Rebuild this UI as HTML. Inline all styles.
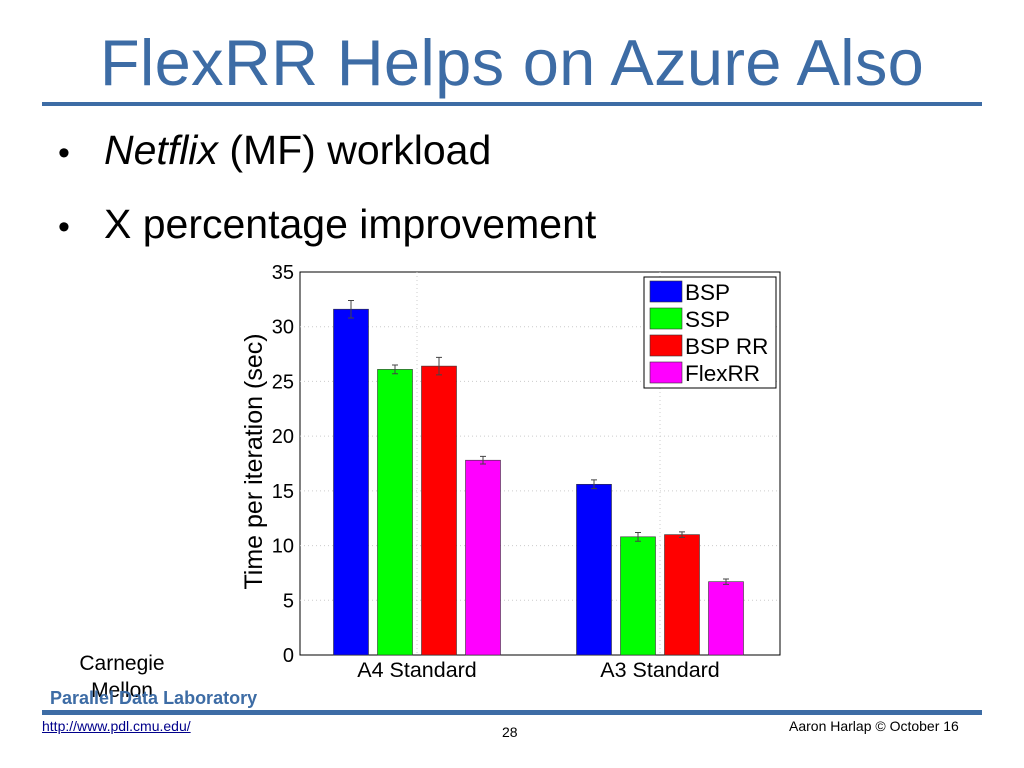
<!DOCTYPE html>
<html><head><meta charset="utf-8"><style>
body{margin:0;width:1024px;height:768px;background:#fff;overflow:hidden;position:relative;font-family:"Liberation Sans",Arial,sans-serif}
.a{position:absolute;white-space:nowrap}
</style></head><body>
<div class="a" style="left:0;width:1024px;text-align:center;top:27px;font-size:65px;color:#3d6ca5;line-height:72px;letter-spacing:0.3px">FlexRR Helps on Azure Also</div>
<div class="a" style="left:42px;width:940px;top:102px;height:4px;background:#3d6ca5"></div>
<div class="a" style="left:58px;top:126px;font-size:41px;line-height:48px"><span style="display:inline-block;width:46px;font-size:34px">•</span><i>Netflix</i> (MF) workload</div>
<div class="a" style="left:58px;top:200px;font-size:41px;line-height:48px"><span style="display:inline-block;width:46px;font-size:34px">•</span>X percentage improvement</div>
<svg class="a" style="left:0;top:0" width="1024" height="768">
<g id="chart"></g>
</svg>
<div class="a" style="left:72px;top:650px;font-size:21px;line-height:27px;text-align:center;width:100px">Carnegie<br>Mellon</div>
<div class="a" style="left:50px;top:688px;font-size:18px;font-weight:bold;color:#3d6ca5">Parallel Data Laboratory</div>
<div class="a" style="left:42px;width:940px;top:710px;height:5px;background:#3d6ca5"></div>
<a class="a" style="left:42px;top:718px;font-size:14px;color:#00008b;text-decoration:underline">http://www.pdl.cmu.edu/</a>
<div class="a" style="left:502px;top:724px;font-size:14px">28</div>
<div class="a" style="left:789px;top:718px;font-size:14px">Aaron Harlap © October 16</div>
<script>
const categories=["A4 Standard","A3 Standard"];
const seriesNames=["BSP","SSP","BSP RR","FlexRR"];
const bsp=[31.6,15.6];
const ssp=[26.1,10.8];
const bsprr=[26.4,11.0];
const flexrr=[17.8,6.7];
const bspErr=[0.8,0.4];
const sspErr=[0.4,0.4];
const bsprrErr=[0.8,0.25];
const flexrrErr=[0.35,0.25];
const yTicks=[0,5,10,15,20,25,30,35];
const colors=["#0000ff","#00ff00","#ff0000","#ff00ff"];
const NS="http://www.w3.org/2000/svg";
const g=document.getElementById('chart');
const L=300,R=780,T=272,B=655,yMax=35;
const y=v=>B-(v/yMax)*(B-T);
const gc=[417,660];
const x=(c,s)=>gc[c]+(s-1.5)*44;
function mk(t,a,p){const e=document.createElementNS(NS,t);for(const k in a)e.setAttribute(k,a[k]);(p||g).appendChild(e);return e;}
mk('rect',{x:L,y:T,width:R-L,height:B-T,fill:'#fff',stroke:'#000','stroke-width':1});
yTicks.forEach(t=>{
 if(t>0&&t<35){const l=mk('line',{x1:L,x2:R,y1:y(t),y2:y(t),stroke:'#ccc','stroke-dasharray':'1,3'});
 
 }
 const tx=mk('text',{x:L-6,y:y(t)+7,'text-anchor':'end','font-size':20,'font-family':'Liberation Sans'});
 tx.textContent=t;
 
 
});
categories.forEach((c,i)=>{
 const l=mk('line',{x1:gc[i],x2:gc[i],y1:T,y2:B,stroke:'#ccc','stroke-dasharray':'1,3'});
 
 
 const tx=mk('text',{x:gc[i],y:B+22,'text-anchor':'middle','font-size':21.5,'font-family':'Liberation Sans'});
 tx.textContent=c;
 
 
});
const yt=mk('text',{x:0,y:0,transform:`translate(262,${(T+B)/2-2}) rotate(-90)`,'text-anchor':'middle','font-size':25,'font-family':'Liberation Sans'});
yt.textContent='Time per iteration (sec)';


const series=[bsp,ssp,bsprr,flexrr],errs=[bspErr,sspErr,bsprrErr,flexrrErr];
series.forEach((s,si)=>s.forEach((v,ci)=>{
 const cx=x(ci,si);
 const r=mk('rect',{x:cx-17.5,y:y(v),width:35,height:B-y(v),fill:colors[si],stroke:'#333','stroke-width':0.6});
 
 
 const e=errs[si][ci];
 const eb=mk('path',{d:`M${cx},${y(v+e)}V${y(v-e)}M${cx-3},${y(v+e)}H${cx+3}M${cx-3},${y(v-e)}H${cx+3}`,stroke:'#444','stroke-width':1,fill:'none'});
 
 
}));
const lg=mk('g',{});


mk('rect',{x:644,y:277,width:132,height:111,fill:'#fff',stroke:'#000'},lg);
seriesNames.forEach((n,i)=>{
 const yy=281+i*27;
 mk('rect',{x:650,y:yy,width:32,height:21,fill:colors[i],stroke:'#333','stroke-width':0.6},lg);
 const t=mk('text',{x:685,y:yy+19,'font-size':22.5,'font-family':'Liberation Sans'},lg);
 t.textContent=n;
 
 
});
</script>
</body></html>
